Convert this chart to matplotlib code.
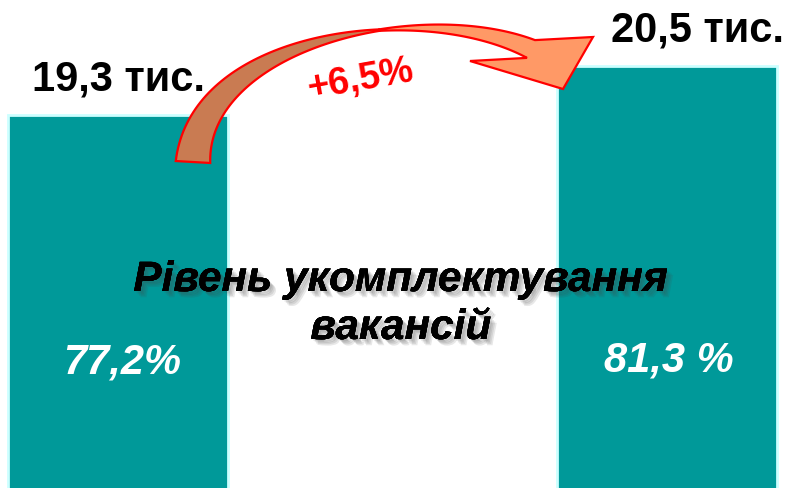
import numpy as np
import matplotlib.pyplot as plt
import matplotlib.patheffects as pe
from matplotlib.patches import Polygon

plt.rcParams['font.family'] = ['Liberation Sans', 'DejaVu Sans']

# data
years = [0, 1]
staff = [19.3, 20.5]              # тис.
staff_labels = ['19,3 тис.', '20,5 тис.']
fill_rate = ['77,2%', '81,3 %']
growth = '+6,5%'
title_lines = ['Рівень укомплектування', 'вакансій']

W, H = 787, 489
fig = plt.figure(figsize=(W / 100, H / 100), dpi=100)
ax = fig.add_axes([0, 0, 1, 1])
ax.bar(years, staff, width=0.4, color='#009999', edgecolor='#CCFFFF', linewidth=2)
ax.set_xlim(-0.215, 1.2186)
ax.set_ylim(10.165, 22.141)
ax.axis('off')

# value labels above bars
ax.text(years[0], staff[0] + 0.63, staff_labels[0], ha='center', va='baseline',
        fontsize=30, fontweight='bold', color='black')
ax.text(years[1] + 0.055, staff[1] + 0.62, staff_labels[1], ha='center', va='baseline',
        fontsize=30, fontweight='bold', color='black')

# fill-rate labels inside bars
ax.text(years[0] + 0.008, 13.0, fill_rate[0], ha='center', va='baseline',
        fontsize=30, fontweight='bold', style='italic', color='white')
ax.text(years[1] + 0.004, 13.05, fill_rate[1], ha='center', va='baseline',
        fontsize=30, fontweight='bold', style='italic', color='white')

# centre caption with soft shadow
shadow = [pe.withSimplePatchShadow(offset=(o, -o), shadow_rgbFace='#444444', alpha=0.12)
          for o in (1.5, 2.5, 3.5, 4.5)] + [pe.Normal()]
for i, line in enumerate(title_lines):
    fig.text(401 / W, 1 - (292 + 48 * i) / H, line, ha='center', va='baseline',
             fontsize=30.5, fontweight='bold', style='italic', color='black',
             path_effects=shadow)

# curved arrow overlay (pixel coordinates, y down)
ov = fig.add_axes([0, 0, 1, 1], facecolor='none')
ov.set_xlim(0, W)
ov.set_ylim(H, 0)
ov.axis('off')

P = np.array([[193, 163], [200, 40], [420, 0], [531, 50]], float)


def bez(t):
    t = t[:, None]
    return ((1 - t) ** 3 * P[0] + 3 * (1 - t) ** 2 * t * P[1]
            + 3 * (1 - t) * t ** 2 * P[2] + t ** 3 * P[3])


def dbez(t):
    t = t[:, None]
    return (3 * (1 - t) ** 2 * (P[1] - P[0]) + 6 * (1 - t) * t * (P[2] - P[1])
            + 3 * t ** 2 * (P[3] - P[2]))


t0 = 0.63


def width(t):
    return np.where(t < t0, 33 * (1 - t / t0), 18 * (t - t0) / (1 - t0)) + 1.5


def sides(t):
    c = bez(t)
    d = dbez(t)
    d = d / np.linalg.norm(d, axis=1)[:, None]
    n = np.column_stack([-d[:, 1], d[:, 0]])
    w = width(t)[:, None] / 2
    return c + n * w, c - n * w


ta = np.linspace(0, t0, 60)
a1, a2 = sides(ta)
tail = np.vstack([a1, a2[::-1]])
ov.add_patch(Polygon(tail, closed=True, facecolor='#C97B52', edgecolor='red', lw=1.6))

tb = np.linspace(t0, 1, 40)
b1, b2 = sides(tb)
Hc = P[3]
head = np.array([Hc + (-61, 12), Hc + (32, 40), Hc + (62, -12)])
front = np.vstack([b1, head, b2[::-1]])
ov.add_patch(Polygon(front, closed=True, facecolor='#FF9966', edgecolor='red', lw=1.6))

ov.text(360, 80, growth, ha='center', va='center', rotation=10,
        fontsize=27, fontweight='bold', color='red')

fig.savefig('out.png', dpi=100)
